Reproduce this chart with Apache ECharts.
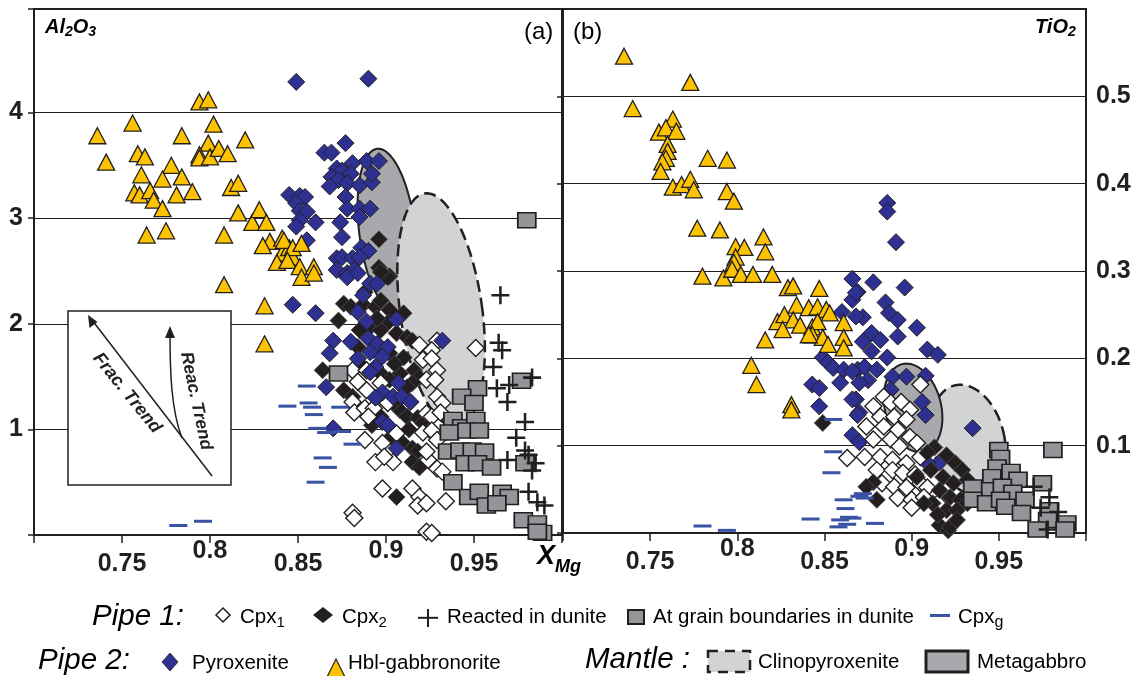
<!DOCTYPE html>
<html><head><meta charset="utf-8">
<script src="https://cdn.jsdelivr.net/npm/echarts@6/dist/echarts.min.js"></script>
<style>html,body{margin:0;padding:0;background:#fff}#c{width:1135px;height:676px}</style>
</head><body><div id="c"></div>
<script>
// ---------- Panel (a): Al2O3 vs XMg ----------
const aHbl = [[0.736,3.78],[0.741,3.53],[0.756,3.90],[0.759,3.61],[0.763,3.58],[0.761,3.41],[0.757,3.24],[0.760,3.22],[0.766,3.26],[0.768,3.17],[0.773,3.09],[0.764,2.84],[0.775,2.88],[0.778,3.50],[0.773,3.37],[0.784,3.39],[0.781,3.22],[0.790,3.25],[0.784,3.78],[0.794,4.10],[0.799,4.12],[0.802,3.89],[0.799,3.71],[0.794,3.60],[0.794,3.57],[0.800,3.58],[0.805,3.66],[0.810,3.61],[0.820,3.74],[0.808,2.84],[0.812,3.29],[0.816,3.33],[0.816,3.05],[0.824,2.96],[0.828,3.08],[0.832,2.96],[0.834,2.78],[0.841,2.81],[0.841,2.67],[0.845,2.72],[0.847,2.63],[0.838,2.58],[0.830,2.74],[0.842,2.79],[0.847,2.72],[0.852,2.76],[0.844,2.60],[0.851,2.54],[0.859,2.54],[0.852,2.44],[0.859,2.48],[0.808,2.37],[0.831,2.17],[0.831,1.81]];
const aPyrox = [[0.849,4.29],[0.890,4.32],[0.877,3.71],[0.865,3.62],[0.869,3.62],[0.881,3.52],[0.889,3.54],[0.896,3.54],[0.872,3.47],[0.875,3.45],[0.880,3.42],[0.869,3.39],[0.873,3.36],[0.878,3.33],[0.885,3.31],[0.892,3.34],[0.892,3.42],[0.868,3.30],[0.845,3.22],[0.851,3.21],[0.854,3.20],[0.877,3.20],[0.849,3.14],[0.851,3.07],[0.855,3.06],[0.860,2.96],[0.878,3.09],[0.885,3.09],[0.891,3.09],[0.851,2.98],[0.849,2.92],[0.874,2.96],[0.875,2.82],[0.885,3.01],[0.855,2.79],[0.886,2.72],[0.890,2.69],[0.872,2.62],[0.875,2.63],[0.881,2.62],[0.885,2.63],[0.872,2.51],[0.878,2.48],[0.882,2.51],[0.847,2.18],[0.860,2.10],[0.870,1.84],[0.868,1.72],[0.866,1.40],[0.870,1.01],[0.906,0.82],[0.932,1.84],[0.878,2.44],[0.884,2.48],[0.891,2.38],[0.895,2.38],[0.887,2.27],[0.884,2.11],[0.889,2.02],[0.906,2.04],[0.880,1.83],[0.890,1.86],[0.895,1.81],[0.901,1.78],[0.884,1.67],[0.891,1.73],[0.898,1.69],[0.894,1.59],[0.891,1.54],[0.907,1.44],[0.898,1.35],[0.904,1.31],[0.909,1.31],[0.914,1.26],[0.894,1.30],[0.898,1.07],[0.901,1.04]];
const aCpx2 = [[0.896,2.80],[0.896,2.53],[0.902,2.45],[0.901,2.44],[0.897,2.49],[0.876,2.19],[0.873,2.03],[0.880,2.16],[0.887,2.18],[0.894,2.16],[0.897,2.22],[0.902,2.13],[0.910,2.10],[0.901,2.01],[0.891,1.97],[0.885,1.94],[0.897,1.94],[0.906,1.91],[0.912,1.87],[0.915,1.84],[0.884,1.78],[0.893,1.75],[0.902,1.72],[0.910,1.68],[0.916,1.56],[0.919,1.49],[0.887,1.59],[0.897,1.53],[0.908,1.53],[0.902,1.47],[0.915,1.44],[0.908,1.18],[0.912,1.12],[0.918,1.11],[0.921,1.06],[0.925,0.99],[0.892,1.04],[0.897,1.12],[0.915,0.82],[0.918,0.79],[0.915,0.69],[0.919,0.64],[0.906,0.36],[0.864,1.56],[0.876,1.37],[0.881,1.31],[0.905,1.62],[0.912,1.40],[0.904,1.25],[0.913,1.00],[0.888,2.30],[0.895,2.05],[0.903,0.93],[0.909,0.88]];
const aCpx1 = [[0.951,1.77],[0.929,1.84],[0.926,1.75],[0.919,1.80],[0.921,1.66],[0.926,1.67],[0.929,1.56],[0.923,1.47],[0.928,1.47],[0.881,1.56],[0.889,1.56],[0.884,1.45],[0.889,1.37],[0.897,1.44],[0.901,1.25],[0.881,1.26],[0.882,1.16],[0.888,1.20],[0.893,1.20],[0.890,1.12],[0.929,1.31],[0.932,1.25],[0.923,1.15],[0.926,1.12],[0.931,1.16],[0.921,0.97],[0.926,0.99],[0.929,0.90],[0.898,0.87],[0.906,0.96],[0.904,0.69],[0.894,0.69],[0.899,0.74],[0.924,0.71],[0.929,0.63],[0.932,0.60],[0.923,0.79],[0.898,0.44],[0.915,0.44],[0.919,0.36],[0.918,0.28],[0.923,0.30],[0.934,0.32],[0.881,0.21],[0.882,0.16],[0.923,0.03],[0.926,0.02],[0.888,0.90]];
const aGrain = [[0.873,1.53],[0.977,1.46],[0.952,1.39],[0.943,1.31],[0.950,1.25],[0.938,1.09],[0.943,1.02],[0.951,1.09],[0.936,0.97],[0.946,0.99],[0.953,0.99],[0.935,0.79],[0.942,0.80],[0.949,0.80],[0.956,0.79],[0.945,0.68],[0.952,0.68],[0.960,0.64],[0.938,0.50],[0.947,0.36],[0.953,0.41],[0.957,0.28],[0.966,0.40],[0.970,0.36],[0.963,0.30],[0.979,0.68],[0.978,0.14],[0.986,0.11],[0.989,0.02],[0.986,0.03],[0.980,2.98]];
const aReacted = [[0.965,2.27],[0.964,1.82],[0.966,1.75],[0.961,1.59],[0.963,1.39],[0.970,1.42],[0.969,1.26],[0.983,1.49],[0.979,1.07],[0.974,0.92],[0.979,0.80],[0.981,0.76],[0.969,0.71],[0.985,0.68],[0.983,0.61],[0.981,0.41],[0.986,0.31],[0.990,0.28]];
const aCpxg = [[0.855,1.41],[0.844,1.22],[0.856,1.25],[0.858,1.21],[0.859,1.14],[0.874,1.21],[0.861,1.01],[0.866,0.97],[0.875,0.98],[0.881,0.86],[0.864,0.73],[0.867,0.64],[0.860,0.50],[0.782,0.09],[0.796,0.13]];
// mantle fields: [centre XMg, centre value, half-width XMg, half-height value, tilt deg]
const aMetagabbro = [[0.9006,2.886,0.0159,0.776,7]];
const aClinopyroxenite = [[0.9313,2.129,0.0233,1.116,8]];

// ---------- Panel (b): TiO2 vs XMg ----------
const bHbl = [[0.735,0.546],[0.773,0.516],[0.740,0.486],[0.763,0.474],[0.755,0.459],[0.759,0.464],[0.765,0.460],[0.760,0.445],[0.760,0.437],[0.759,0.429],[0.757,0.425],[0.756,0.414],[0.783,0.429],[0.794,0.427],[0.763,0.396],[0.768,0.399],[0.773,0.405],[0.775,0.393],[0.794,0.391],[0.798,0.380],[0.777,0.349],[0.790,0.347],[0.815,0.339],[0.816,0.322],[0.799,0.328],[0.804,0.327],[0.799,0.316],[0.798,0.310],[0.780,0.294],[0.792,0.292],[0.797,0.302],[0.802,0.296],[0.809,0.296],[0.820,0.296],[0.829,0.281],[0.832,0.283],[0.847,0.280],[0.834,0.261],[0.841,0.258],[0.846,0.259],[0.851,0.256],[0.853,0.252],[0.823,0.242],[0.827,0.250],[0.832,0.244],[0.836,0.238],[0.843,0.236],[0.846,0.242],[0.843,0.227],[0.849,0.224],[0.826,0.233],[0.841,0.227],[0.852,0.216],[0.861,0.241],[0.861,0.224],[0.861,0.212],[0.816,0.221],[0.808,0.192],[0.811,0.170],[0.831,0.147],[0.831,0.141]];
const bPyrox = [[0.886,0.378],[0.886,0.368],[0.891,0.333],[0.866,0.291],[0.878,0.287],[0.896,0.281],[0.869,0.276],[0.866,0.267],[0.885,0.264],[0.887,0.252],[0.872,0.247],[0.868,0.248],[0.892,0.244],[0.903,0.235],[0.877,0.229],[0.892,0.225],[0.872,0.219],[0.882,0.221],[0.877,0.208],[0.886,0.201],[0.909,0.210],[0.915,0.204],[0.869,0.187],[0.873,0.190],[0.880,0.187],[0.889,0.179],[0.897,0.179],[0.908,0.180],[0.875,0.175],[0.870,0.172],[0.888,0.164],[0.906,0.150],[0.908,0.135],[0.868,0.153],[0.870,0.138],[0.935,0.120],[0.866,0.112],[0.870,0.104],[0.916,0.081],[0.909,0.080],[0.868,0.275],[0.860,0.253],[0.849,0.201],[0.852,0.195],[0.855,0.189],[0.861,0.187],[0.866,0.185],[0.843,0.170],[0.847,0.166],[0.859,0.172],[0.847,0.145],[0.866,0.153],[0.869,0.135]];
const bCpx1 = [[0.905,0.170],[0.884,0.156],[0.878,0.145],[0.888,0.149],[0.894,0.150],[0.899,0.141],[0.882,0.133],[0.890,0.133],[0.897,0.130],[0.874,0.122],[0.884,0.122],[0.892,0.118],[0.899,0.110],[0.878,0.107],[0.888,0.107],[0.893,0.099],[0.903,0.103],[0.863,0.086],[0.873,0.087],[0.882,0.087],[0.889,0.084],[0.897,0.080],[0.905,0.087],[0.880,0.072],[0.889,0.072],[0.895,0.069],[0.902,0.067],[0.883,0.057],[0.890,0.053],[0.897,0.052],[0.905,0.057],[0.909,0.052],[0.892,0.040],[0.900,0.038],[0.907,0.041],[0.900,0.029],[0.915,0.034],[0.938,0.038]];
const bCpx2 = [[0.913,0.098],[0.909,0.092],[0.920,0.089],[0.925,0.080],[0.929,0.072],[0.932,0.061],[0.911,0.072],[0.918,0.064],[0.924,0.057],[0.916,0.049],[0.922,0.041],[0.928,0.038],[0.912,0.034],[0.920,0.026],[0.926,0.026],[0.932,0.034],[0.916,0.009],[0.921,0.003],[0.922,0.007],[0.878,0.058],[0.874,0.053],[0.880,0.038],[0.907,0.034],[0.915,0.021],[0.926,0.015],[0.903,0.064],[0.849,0.126]];
const bGrain = [[0.950,0.095],[0.951,0.086],[0.949,0.075],[0.957,0.070],[0.961,0.061],[0.946,0.064],[0.945,0.049],[0.952,0.053],[0.958,0.046],[0.965,0.038],[0.935,0.052],[0.935,0.038],[0.943,0.034],[0.951,0.038],[0.954,0.030],[0.963,0.023],[0.975,0.057],[0.979,0.026],[0.978,0.015],[0.972,0.004],[0.989,0.011],[0.988,0.004],[0.981,0.095]];
const bReacted = [[0.970,0.053],[0.979,0.041],[0.974,0.029],[0.984,0.024],[0.978,0.004]];
const bCpxg = [[0.855,0.130],[0.855,0.093],[0.854,0.069],[0.861,0.038],[0.862,0.028],[0.842,0.016],[0.859,0.015],[0.864,0.018],[0.866,0.017],[0.863,0.010],[0.858,0.007],[0.780,0.008],[0.794,0.003],[0.870,0.042],[0.872,0.045],[0.873,0.040],[0.879,0.011]];
const bMetagabbro = [[0.9008,0.1433,0.0161,0.0516,14]];
const bClinopyroxenite = [[0.9324,0.1067,0.0207,0.0642,14]];

// axis ranges / ticks
const xRange = [0.70, 1.00], xStep = 0.05;
const yARange = [0, 4.98], yAStep = 1;
const yBRange = [0, 0.60], yBStep = 0.1;

const INK = '#231f20';
const FONT = '"Liberation Sans", Arial, Helvetica, sans-serif';
const C = {yellow:'#fdc300', blue:'#2e3192', dash:'#3953a4', grey:'#939598', dark:'#a7a9ac', light:'#d1d3d4'};

const chart = echarts.init(document.getElementById('c'), null, {renderer:'canvas'});

function xFmt(v){
  if (v < 0.72 || v > 0.98) return '';
  const s = String(Math.round(v*100)/100);
  return (Math.round(v*100) % 10 === 0) ? '{hi|'+s+'}' : '{lo|'+s+'}';
}
const xLabel = {
  margin: 4, formatter: xFmt, color: INK,
  rich: {
    hi: {fontFamily: FONT, fontWeight:'bold', fontSize:25, color:INK},
    lo: {fontFamily: FONT, fontWeight:'bold', fontSize:25, color:INK, padding:[13,0,0,0]}
  }
};
function xAx(g){
  return {type:'value', gridIndex:g, min:xRange[0], max:xRange[1], interval:xStep,
    axisLine:{show:true, lineStyle:{color:INK, width:2}},
    axisTick:{show:true, inside:false, length:8, lineStyle:{color:INK, width:1.5}},
    splitLine:{show:false}, axisLabel:xLabel};
}

function ellipseRender(fill, stroke, width, dash){
  return function(params, api){
    const c = api.coord([api.value(0), api.value(1)]);
    const s = api.size([api.value(2), api.value(3)]);
    const a = api.value(4) * Math.PI / 180;
    const pts = [];
    for (let i = 0; i < 96; i++){
      const t = i / 96 * Math.PI * 2;
      const x = s[0] * Math.cos(t), y = s[1] * Math.sin(t);
      pts.push([c[0] + x*Math.cos(a) + y*Math.sin(a), c[1] - x*Math.sin(a) + y*Math.cos(a)]);
    }
    return {type:'polygon', shape:{points:pts}, style:{fill:fill, stroke:stroke, lineWidth:width, lineDash:dash}};
  };
}
function field(data, axis, fill, width, dash, z){
  return {type:'custom', xAxisIndex:axis, yAxisIndex:axis, data:data, z:z, clip:true, silent:true,
    renderItem: ellipseRender(fill, INK, width, dash)};
}

const PLUS = 'path://M4.3,0h1.4v4.3h4.3v1.4h-4.3v4.3h-1.4v-4.3h-4.3v-1.4h4.3z';
const sym = {
  cpx1:  {symbol:'diamond', symbolSize:[17,17], itemStyle:{color:'#ffffff', borderColor:INK, borderWidth:1.4, opacity:1}},
  cpx2:  {symbol:'diamond', symbolSize:[17,17], itemStyle:{color:INK, borderColor:'#4d4d4f', borderWidth:0.8, opacity:1}},
  pyrox: {symbol:'diamond', symbolSize:[17,17], itemStyle:{color:C.blue, borderColor:INK, borderWidth:1, opacity:1}},
  hbl:   {symbol:'triangle', symbolSize:[17,16], itemStyle:{color:C.yellow, borderColor:INK, borderWidth:1.3, opacity:1}},
  grain: {symbol:'rect', symbolSize:[18,15], itemStyle:{color:C.grey, borderColor:INK, borderWidth:1.6, opacity:1}},
  react: {symbol:PLUS, symbolSize:[18,18], itemStyle:{color:INK, borderWidth:0, opacity:1}},
  cpxg:  {symbol:'rect', symbolSize:[18,3], itemStyle:{color:C.dash, borderWidth:0, opacity:1}}
};
function sc(name, data, axis, kind, z){
  return Object.assign({type:'scatter', name:name, xAxisIndex:axis, yAxisIndex:axis, data:data, z:z, silent:true}, sym[kind]);
}

function rt(x, y, parts, extra){
  let txt = '', rich = {};
  parts.forEach((p, i) => { txt += '{t'+i+'|'+p[0]+'}'; rich['t'+i] = Object.assign({fontFamily:FONT, color:INK}, p[1]); });
  return Object.assign({type:'text', x:x, y:y, z:100, silent:true,
    style:{text:txt, rich:rich, textAlign:'left', textVerticalAlign:'middle'}}, extra||{});
}
const bi = (s) => ({fontSize:s, fontWeight:'bold', fontStyle:'italic'});
const sub = (s, pad) => ({fontSize:s, padding:[pad,0,0,0]});
const itemF = {fontSize:20.5};
const pipeF = {fontSize:29.5, fontStyle:'italic'};

const graphics = [
  // panel titles
  rt(45, 27, [['Al', bi(20)], ['2', Object.assign(bi(14), {padding:[10,0,0,0]})], ['O', bi(20)], ['3', Object.assign(bi(14), {padding:[10,0,0,0]})]]),
  rt(1035, 27, [['TiO', bi(20)], ['2', Object.assign(bi(14), {padding:[10,0,0,0]})]]),
  rt(524, 32, [['(a)', {fontSize:24}]]),
  rt(573, 32, [['(b)', {fontSize:24}]]),
  // axis title XMg
  rt(537, 557, [['X', bi(27)], ['Mg', Object.assign(bi(18), {padding:[20,0,0,0]})]]),
  // inset box with trends
  {type:'rect', z:90, silent:true, shape:{x:68, y:311, width:163, height:174}, style:{fill:'#fff', stroke:INK, lineWidth:1.5}},
  {type:'line', z:100, silent:true, shape:{x1:212, y1:476, x2:92, y2:320}, style:{stroke:INK, lineWidth:1.5}},
  {type:'polygon', z:100, silent:true, shape:{points:[[88,315],[89.5,328],[97.5,322]]}, style:{fill:INK}},
  {type:'bezierCurve', z:100, silent:true, shape:{x1:182, y1:438, cpx1:171, cpy1:410, cpx2:170, cpy2:370, x2:170, y2:334}, style:{stroke:INK, lineWidth:1.5, fill:null}},
  {type:'polygon', z:100, silent:true, shape:{points:[[170,326],[165,338],[175,338]]}, style:{fill:INK}},
  {type:'text', z:100, silent:true, x:127, y:393, rotation:-51*Math.PI/180,
    style:{text:'Frac. Trend', fontFamily:FONT, fontSize:18, fontWeight:'bold', fontStyle:'italic', fill:INK, textAlign:'center', textVerticalAlign:'middle'}},
  {type:'text', z:100, silent:true, x:196, y:401, rotation:-78*Math.PI/180,
    style:{text:'Reac. Trend', fontFamily:FONT, fontSize:17.5, fontWeight:'bold', fontStyle:'italic', fill:INK, textAlign:'center', textVerticalAlign:'middle'}},

  // legend row 1
  rt(92, 617, [['Pipe 1:', pipeF]]),
  {type:'polygon', z:100, silent:true, shape:{points:[[223,608],[230,615],[223,622],[216,615]]}, style:{fill:'#fff', stroke:INK, lineWidth:1.5}},
  rt(240, 617, [['Cpx', itemF], ['1', sub(15, 11)]]),
  {type:'polygon', z:100, silent:true, shape:{points:[[323,607],[333,615],[323,623],[313,615]]}, style:{fill:INK}},
  rt(342, 617, [['Cpx', itemF], ['2', sub(15, 11)]]),
  {type:'rect', z:100, silent:true, shape:{x:418, y:616.8, width:20, height:2}, style:{fill:INK}},
  {type:'rect', z:100, silent:true, shape:{x:427, y:609, width:2, height:18}, style:{fill:INK}},
  rt(447, 617, [['Reacted in dunite', itemF]]),
  {type:'rect', z:100, silent:true, shape:{x:628, y:610, width:16, height:14}, style:{fill:C.grey, stroke:INK, lineWidth:2}},
  rt(653, 617, [['At grain boundaries in dunite', itemF]]),
  {type:'rect', z:100, silent:true, shape:{x:930, y:614, width:20, height:3}, style:{fill:C.dash}},
  rt(958, 617, [['Cpx', itemF], ['g', sub(16, 11)]]),
  // legend row 2
  rt(38, 661, [['Pipe 2:', pipeF]]),
  {type:'polygon', z:100, silent:true, shape:{points:[[170,653],[178,662],[170,671],[162,662]]}, style:{fill:C.blue, stroke:INK, lineWidth:0.8}},
  rt(192, 663, [['Pyroxenite', itemF]]),
  {type:'polygon', z:100, silent:true, shape:{points:[[336,659],[345,677],[327,677]]}, style:{fill:C.yellow, stroke:INK, lineWidth:1.2}},
  rt(348, 663, [['Hbl-gabbronorite', itemF]]),
  rt(585, 660, [['Mantle :', pipeF]]),
  {type:'rect', z:100, silent:true, shape:{x:708, y:651, width:42, height:21}, style:{fill:C.light, stroke:INK, lineWidth:2.5, lineDash:[10,7]}},
  rt(758, 662, [['Clinopyroxenite', itemF]]),
  {type:'rect', z:100, silent:true, shape:{x:926, y:651, width:42, height:21}, style:{fill:C.dark, stroke:INK, lineWidth:3}},
  rt(977, 662, [['Metagabbro', itemF]])
];

const option = {
  animation:false,
  backgroundColor:'#ffffff',
  grid:[
    {left:34, top:9, width:528, height:526, show:true, borderColor:INK, borderWidth:2, backgroundColor:'transparent'},
    {left:563, top:9, width:523, height:524, show:true, borderColor:INK, borderWidth:2, backgroundColor:'transparent'}
  ],
  xAxis:[xAx(0), xAx(1)],
  yAxis:[
    {type:'value', gridIndex:0, min:yARange[0], max:yARange[1], interval:yAStep,
      axisLine:{show:true, lineStyle:{color:INK, width:2}},
      axisTick:{show:true, length:6, lineStyle:{color:INK, width:1.5}},
      splitLine:{show:true, lineStyle:{color:INK, width:1.2}},
      axisLabel:{margin:11, color:INK, fontFamily:FONT, fontWeight:'bold', fontSize:25,
        formatter:(v)=> (v > 0.5 && Math.abs(v - Math.round(v)) < 1e-6) ? String(Math.round(v)) : ''}},
    {type:'value', gridIndex:1, position:'right', min:yBRange[0], max:yBRange[1], interval:yBStep,
      axisLine:{show:true, lineStyle:{color:INK, width:2}},
      axisTick:{show:false},
      splitLine:{show:true, lineStyle:{color:INK, width:1.2}},
      axisLabel:{margin:10, color:INK, fontFamily:FONT, fontWeight:'bold', fontSize:25,
        formatter:(v)=> (v > 0.05 && v < 0.55) ? (Math.round(v*10)/10).toFixed(1) : ''}},
    {type:'value', gridIndex:1, position:'left', min:yBRange[0], max:yBRange[1], interval:yBStep,
      axisLine:{show:true, lineStyle:{color:INK, width:2}},
      axisTick:{show:true, length:6, lineStyle:{color:INK, width:1.5}},
      splitLine:{show:false}, axisLabel:{show:false}}
  ],
  graphic: graphics,
  series:[
    field(aMetagabbro, 0, C.dark, 2, null, 3),
    field(aClinopyroxenite, 0, C.light, 2.5, [12,6], 4),
    sc('Cpx2', aCpx2, 0, 'cpx2', 5),
    sc('Cpx1', aCpx1, 0, 'cpx1', 6),
    sc('Pyroxenite', aPyrox, 0, 'pyrox', 7),
    sc('Grain', aGrain, 0, 'grain', 8),
    sc('Reacted', aReacted, 0, 'react', 8),
    sc('Cpxg', aCpxg, 0, 'cpxg', 8),
    sc('Hbl', aHbl, 0, 'hbl', 9),
    field(bClinopyroxenite, 1, C.light, 2.5, [12,6], 3),
    field(bMetagabbro, 1, C.dark, 2, null, 4),
    sc('Pyroxenite', bPyrox, 1, 'pyrox', 5),
    sc('Cpx1', bCpx1, 1, 'cpx1', 6),
    sc('Cpx2', bCpx2, 1, 'cpx2', 7),
    sc('Grain', bGrain, 1, 'grain', 8),
    sc('Reacted', bReacted, 1, 'react', 8),
    sc('Cpxg', bCpxg, 1, 'cpxg', 8),
    sc('Hbl', bHbl, 1, 'hbl', 9)
  ]
};
chart.setOption(option);
</script>
</body></html>
